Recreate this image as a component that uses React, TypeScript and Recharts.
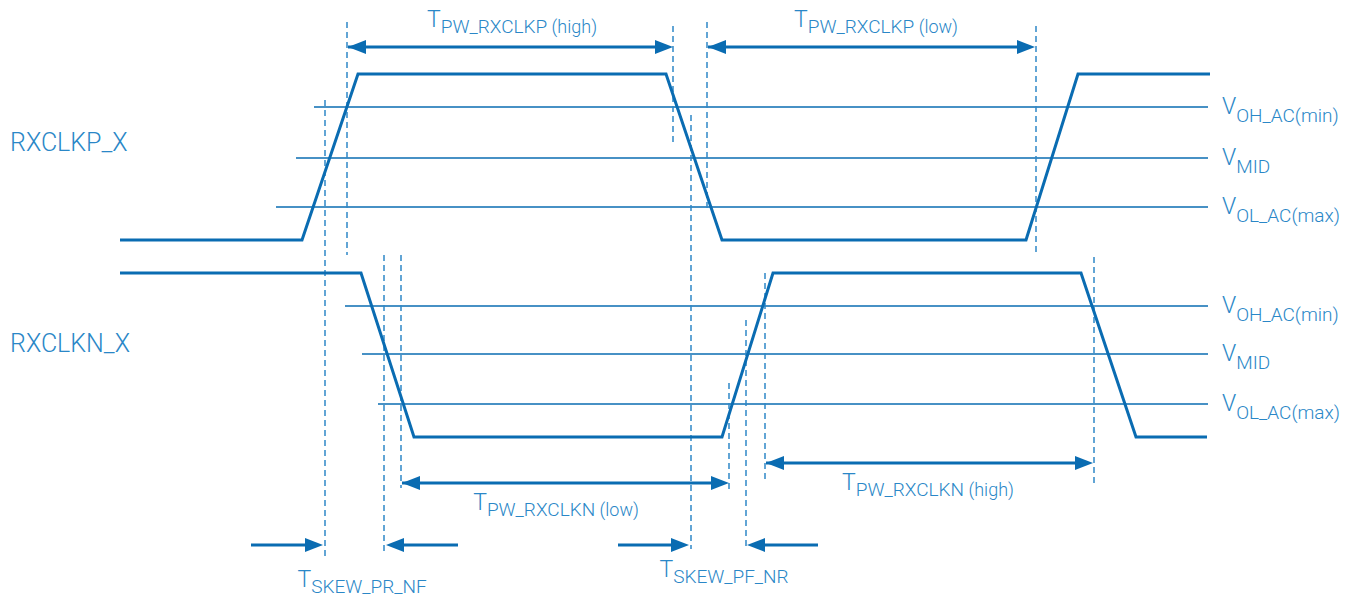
import { ComposedChart, Line, XAxis, YAxis, ReferenceLine, ReferenceDot } from "recharts";

// === Colores ===
const WAVE = "#0a6cb2";
const DASH = "#2f88c8";
const TEXT = "#2a87c7";
const FONT = "Roboto, 'Liberation Sans', sans-serif";

// === Formas de onda: tiempo / nivel (eje vertical hacia abajo) ===
const rxclkpT = [120, 302, 358, 666, 722, 1026, 1078, 1210];
const rxclkpV = [240, 240, 74, 74, 240, 240, 74, 74];
const rxclknT = [120, 361, 414, 722, 773, 1081, 1136, 1207];
const rxclknV = [273, 273, 437, 437, 273, 273, 437, 437];

// === Umbrales (VOH, VMID, VOL) ===
const thrNames = ["OH_AC(min)", "MID", "OL_AC(max)"];
const pThrLevel = [107, 158, 207];
const pThrStart = [314, 296, 276];
const nThrLevel = [306, 354, 404];
const nThrStart = [345, 362, 378];
const thrEnd = 1208;

// === Marcas punteadas: tiempo, nivel inicio, nivel fin ===
const markT = [325, 347, 673, 707, 691, 1036, 384, 401, 729, 746, 765, 1094];
const markFrom = [100, 22, 26, 22, 115, 26, 255, 255, 383, 320, 273, 257];
const markTo = [557, 255, 143, 208, 549, 255, 553, 488, 492, 548, 480, 487];

// === Flechas: desde, hasta, nivel, doble ===
const arrowFrom = [348, 708, 402, 766, 251, 458, 618, 818];
const arrowTo = [673, 1035, 729, 1093, 323, 386, 689, 747];
const arrowLevel = [47, 47, 483, 463, 545, 545, 545, 545];
const arrowBoth = [true, true, true, true, false, false, false, false];

// === Etiquetas: T + subíndice + sufijo ===
const lblSub = ["PW_RXCLKP", "PW_RXCLKP", "PW_RXCLKN", "PW_RXCLKN", "SKEW_PR_NF", "SKEW_PF_NR"];
const lblSuffix = [" (high)", " (low)", " (low)", " (high)", "", ""];
const lblT = [512, 876, 556, 928, 362, 724];
const lblV = [27, 27, 510, 490, 587, 577];

const sigNames = ["RXCLKP_X", "RXCLKN_X"];
const sigNameV = [151, 352];

const pData = rxclkpT.map((t, i) => ({ t, v: rxclkpV[i] }));
const nData = rxclknT.map((t, i) => ({ t, v: rxclknV[i] }));

function Arrow(props: any) {
  const { x1, y1, x2, both } = props;
  const d = x2 > x1 ? 1 : -1;
  const L = 18, h = 7;
  const head = (x: number, dir: number) => (
    <polygon points={`${x},${y1} ${x - dir * L},${y1 - h} ${x - dir * L},${y1 + h}`} fill={WAVE} />
  );
  return (
    <g>
      <line x1={x1} y1={y1} x2={x2 - d * 6} y2={y1} stroke={WAVE} strokeWidth={3} />
      {head(x2, d)}
      {both && head(x1, -d)}
    </g>
  );
}

function Threshold(props: any) {
  const { x1, y1, x2, name } = props;
  return (
    <g>
      <line x1={x1} y1={y1} x2={x2} y2={y1} stroke={WAVE} strokeWidth={1.6} />
      <text x={x2 + 14} y={y1 + 7} fill={TEXT} fontFamily={FONT} fontWeight={300} fontSize={23}>
        V<tspan dy={8} fontSize={19}>{name}</tspan>
      </text>
    </g>
  );
}

export default function App() {
  return (
    <div style={{ position: "absolute", left: 0, top: 0, background: "#fff" }}>
      <ComposedChart width={1359} height={598} margin={{ top: 0, right: 0, bottom: 0, left: 0 }}>
        <XAxis dataKey="t" type="number" domain={[0, 1359]} hide allowDataOverflow />
        <YAxis type="number" domain={[0, 598]} reversed hide allowDataOverflow />

        {pThrLevel.map((v, i) => (
          <ReferenceLine
            key={"pt" + i}
            segment={[{ x: pThrStart[i], y: v }, { x: thrEnd, y: v }]}
            ifOverflow="visible"
            shape={(p: any) => <Threshold {...p} name={thrNames[i]} />}
          />
        ))}
        {nThrLevel.map((v, i) => (
          <ReferenceLine
            key={"nt" + i}
            segment={[{ x: nThrStart[i], y: v }, { x: thrEnd, y: v }]}
            ifOverflow="visible"
            shape={(p: any) => <Threshold {...p} name={thrNames[i]} />}
          />
        ))}

        {markT.map((t, i) => (
          <ReferenceLine
            key={"m" + i}
            segment={[{ x: t, y: markFrom[i] }, { x: t, y: markTo[i] }]}
            stroke={DASH}
            strokeWidth={1.5}
            strokeDasharray="6 4"
            ifOverflow="visible"
          />
        ))}

        {arrowFrom.map((f, i) => (
          <ReferenceLine
            key={"a" + i}
            segment={[{ x: f, y: arrowLevel[i] }, { x: arrowTo[i], y: arrowLevel[i] }]}
            ifOverflow="visible"
            shape={(p: any) => <Arrow {...p} both={arrowBoth[i]} />}
          />
        ))}

        <Line data={pData} dataKey="v" type="linear" stroke={WAVE} strokeWidth={3} dot={false}
          activeDot={false} isAnimationActive={false} />
        <Line data={nData} dataKey="v" type="linear" stroke={WAVE} strokeWidth={3} dot={false}
          activeDot={false} isAnimationActive={false} />

        {lblSub.map((s, i) => (
          <ReferenceDot
            key={"l" + i}
            x={lblT[i]}
            y={lblV[i]}
            r={0}
            ifOverflow="visible"
            shape={(p: any) => (
              <text x={p.cx} y={p.cy} textAnchor="middle" fill={TEXT} fontFamily={FONT} fontWeight={300} fontSize={23}>
                T<tspan dy={6} fontSize={19}>{s}</tspan>
                <tspan fontSize={18}>{lblSuffix[i]}</tspan>
              </text>
            )}
          />
        ))}

        {sigNames.map((s, i) => (
          <ReferenceDot
            key={"s" + i}
            x={10}
            y={sigNameV[i]}
            r={0}
            ifOverflow="visible"
            shape={(p: any) => (
              <text x={p.cx} y={p.cy} fill={TEXT} fontFamily={FONT} fontWeight={300} fontSize={25}>{s}</text>
            )}
          />
        ))}
      </ComposedChart>
    </div>
  );
}
